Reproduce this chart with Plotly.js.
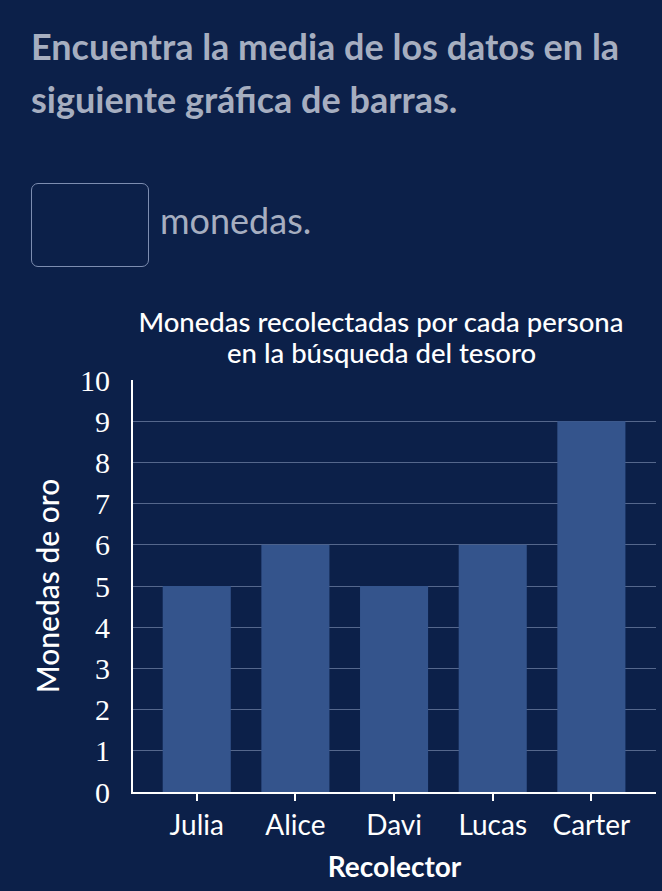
<!DOCTYPE html>
<html>
<head>
<meta charset="utf-8">
<script src="https://cdn.plot.ly/plotly-3.0.1.min.js"></script>
<style>
  html, body { margin: 0; padding: 0; background: #0c2049; width: 662px; height: 891px; overflow: hidden; }
  #question {
    position: absolute; left: 31px; top: 20px; width: 640px;
    font-family: Lato, sans-serif; font-weight: 700; font-size: 36px;
    line-height: 53px; color: #a6aec0; white-space: nowrap;
  }
  #answerBox {
    position: absolute; left: 31px; top: 183px; width: 116px; height: 82px;
    border: 1px solid #7d8db0; border-radius: 7px;
  }
  #unit {
    position: absolute; left: 160px; top: 198px;
    font-family: Lato, sans-serif; font-size: 36px; color: #a6aec0;
  }
  #chart { position: absolute; left: 0; top: 0; width: 662px; height: 891px; }
</style>
</head>
<body>
<div id="chart"></div>
<div id="question">Encuentra la media de los datos en la<br>siguiente gráfica de barras.</div>
<div id="answerBox"></div>
<div id="unit">monedas.</div>
<script>
const collectors = ["Julia", "Alice", "Davi", "Lucas", "Carter"];
const coins = [5, 6, 5, 6, 9];
const yTicks = [0, 1, 2, 3, 4, 5, 6, 7, 8, 9, 10];
const titleLines = ["Monedas recolectadas por cada persona", "en la búsqueda del tesoro"];

const bg = "#0c2049";
const titleFont = { family: "Lato, sans-serif", size: 27.5, color: "#ffffff", weight: 500 };

const trace = {
  type: "bar",
  x: collectors,
  y: coins,
  width: 0.69,
  marker: { color: "#34548c", line: { width: 0 } },
  hoverinfo: "x+y"
};

const layout = {
  width: 662,
  height: 891,
  paper_bgcolor: bg,
  plot_bgcolor: bg,
  margin: { l: 133, r: 6, t: 380, b: 99 },
  showlegend: false,
  font: { family: "Lato, sans-serif", color: "#ffffff" },
  title: {
    text: titleLines[0],
    font: titleFont,
    x: 381 / 662, xanchor: "center",
    y: 1 - 322 / 891, yanchor: "middle", yref: "container"
  },
  annotations: [{
    text: titleLines[1],
    font: titleFont,
    xref: "paper", yref: "paper",
    x: (381 - 133) / (662 - 133 - 6), xanchor: "center",
    y: 1 + (380 - 353) / (891 - 380 - 99), yanchor: "middle",
    showarrow: false
  }],
  xaxis: {
    type: "category",
    range: [-0.646, 4.655],
    showline: true, linecolor: "#ffffff", linewidth: 2,
    ticks: "outside", ticklen: 7, tickwidth: 2, tickcolor: "#ffffff",
    tickfont: { family: "Lato, sans-serif", size: 28, color: "#ffffff" },
    showgrid: false, zeroline: false, fixedrange: true,
    title: {
      text: "Recolector", standoff: 18,
      font: { family: "Lato, sans-serif", size: 28, color: "#ffffff", weight: 700 }
    }
  },
  yaxis: {
    range: [0, 10],
    tickvals: yTicks,
    ticktext: yTicks.map(String),
    showline: true, linecolor: "#ffffff", linewidth: 2,
    ticks: "", ticklabelstandoff: 15,
    tickfont: { family: "Liberation Serif, serif", size: 30, color: "#ffffff" },
    showgrid: true, gridcolor: "#55678c", gridwidth: 1,
    zeroline: false, fixedrange: true,
    title: {
      text: "Monedas de oro", standoff: 12,
      font: { family: "Lato, sans-serif", size: 30, color: "#ffffff", weight: 500 }
    }
  }
};

Plotly.newPlot("chart", [trace], layout, { displayModeBar: false, staticPlot: true });
</script>
</body>
</html>
